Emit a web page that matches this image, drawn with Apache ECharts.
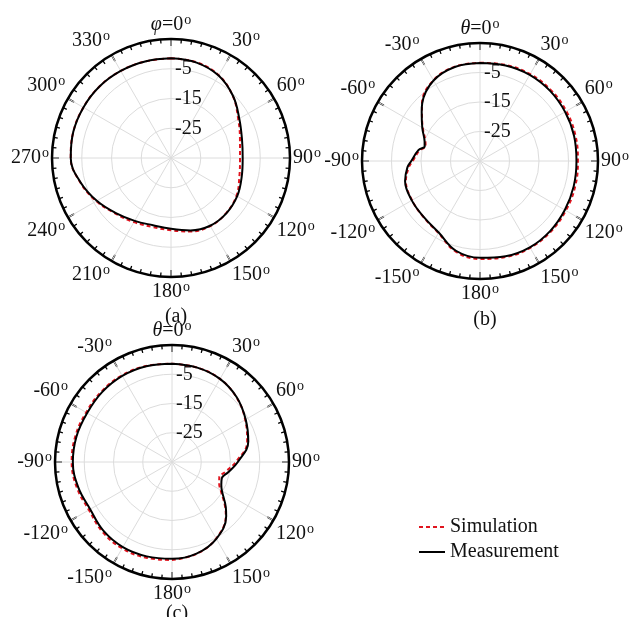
<!DOCTYPE html>
<html><head><meta charset="utf-8">
<script src="https://cdn.jsdelivr.net/npm/echarts@6/dist/echarts.min.js"></script>
<style>html,body{margin:0;padding:0;background:#fff}#c{width:634px;height:617px}</style>
</head><body><div id="c"></div>
<script>
// ---- data (angles in degrees, values in dB) ----
const angleA = [0,15,30,45,60,75,90,105,120,135,150,165,180,195,210,225,240,255,270,285,300,315,330,345,360];
const measA  = [-1.5,-1.8,-3.0,-5.5,-8.5,-10.3,-10.9,-10.4,-9.3,-8.7,-8.7,-9.8,-11.2,-11.6,-10.6,-8.8,-6.2,-3.5,-1.3,-1.0,-1.0,-1.0,-1.2,-1.4,-1.5];
const simA   = [-1.5,-1.7,-2.9,-5.6,-8.9,-11.0,-11.8,-11.2,-9.6,-8.8,-8.6,-9.4,-10.7,-11.0,-10.1,-8.6,-6.0,-3.4,-1.3,-1.0,-1.0,-1.0,-1.2,-1.4,-1.5];

const angleB = [-180,-165,-150,-135,-120,-105,-95,-90,-80,-75,-70,-60,-50,-45,-30,-15,0,15,30,45,60,75,90,105,120,135,150,165,180];
const measB  = [-2.2,-3.5,-7.0,-8.1,-8.3,-8.7,-10.3,-11.7,-13.8,-15.6,-15.0,-12.4,-9.2,-7.3,-3.5,-2.0,-1.8,-1.5,-1.3,-1.4,-1.7,-2.0,-2.3,-2.1,-1.8,-1.4,-1.2,-1.6,-2.2];
const simB   = [-1.8,-3.2,-6.8,-8.0,-8.4,-9.0,-10.8,-12.2,-14.2,-15.9,-15.3,-12.6,-9.3,-7.2,-3.4,-1.9,-1.7,-1.3,-1.0,-1.0,-1.2,-1.5,-1.8,-1.6,-1.4,-1.1,-1.0,-1.3,-1.8];

const angleC = [-180,-165,-150,-135,-120,-105,-90,-75,-60,-45,-30,-15,0,15,30,45,60,75,90,100,108,115,120,130,135,150,165,180];
const measC  = [-1.9,-1.6,-1.4,-1.8,-2.7,-1.8,-1.1,-1.2,-1.5,-1.2,-1.0,-1.1,-1.4,-1.6,-2.2,-3.7,-5.9,-8.0,-12.5,-15.4,-17.1,-16.4,-15.3,-11.0,-8.8,-4.7,-2.6,-1.9];
const simC   = [-1.5,-1.1,-0.9,-1.3,-2.2,-1.3,-0.7,-0.8,-1.1,-0.9,-0.8,-1.0,-1.4,-1.6,-2.2,-3.8,-6.1,-8.4,-13.2,-16.3,-18.0,-17.2,-15.8,-11.3,-9.0,-4.8,-2.5,-1.6];

const radiusTicks = [-35,-25,-15,-5,5];
const legendNames = ['Simulation','Measurement'];
const captions = ['(a)','(b)','(c)'];
const zeroLabels = ['φ','θ','θ'];

// ---- layout ----
const polars = [
  {center:[171,158], radius:119},
  {center:[480,161], radius:118},
  {center:[172,462], radius:117}
];
const captionPos = [[171,302],[480,305],[172,599]];
const serif = '"Liberation Serif","Times New Roman",serif';

function angleFormatter(idx){
  return function(v){
    if (v === 0) return '{i|' + zeroLabels[idx] + '}{n|=0}{s|o}';
    if (v === 360) return '';
    let d = v;
    if (idx > 0 && v > 180) d = v - 360;
    return '{n|' + d + '}{s|o}';
  };
}
const rich = {
  n:{fontFamily:serif,fontSize:20,color:'#111'},
  i:{fontFamily:serif,fontSize:20,fontStyle:'italic',color:'#111'},
  s:{fontFamily:serif,fontSize:14,color:'#111',verticalAlign:'top',padding:[0,0,9,1]}
};

const option = {
  animation:false,
  backgroundColor:'#fff',
  title: captions.map((t,i)=>({text:t,left:captionPos[i][0],top:captionPos[i][1],textAlign:'center',
    textStyle:{fontFamily:serif,fontSize:20,fontWeight:'normal',color:'#111'}})),
  legend:{data:legendNames,orient:'vertical',left:413,top:512,itemWidth:26,itemHeight:10,itemGap:5,
    itemStyle:{opacity:0},
    textStyle:{fontFamily:serif,fontSize:20,color:'#111'}},
  polar: polars.map(p=>({center:p.center,radius:p.radius})),
  angleAxis: polars.map((p,i)=>({
    polarIndex:i,type:'value',min:0,max:360,interval:30,startAngle:90,clockwise:true,
    axisLine:{lineStyle:{color:'#000',width:2.5}},
    axisTick:{inside:true,length:7,lineStyle:{color:'#000',width:1.6}},
    minorTick:{show:true,splitNumber:6,length:4,lineStyle:{color:'#000',width:1.3}},
    axisLabel:{margin:3,formatter:angleFormatter(i),rich:rich},
    splitLine:{show:true,lineStyle:{color:'#dcdcdc',width:1}}
  })),
  radiusAxis: polars.map((p,i)=>({
    polarIndex:i,type:'value',min:radiusTicks[0],max:radiusTicks[radiusTicks.length-1],interval:10,
    axisLine:{show:false},axisTick:{show:false},
    axisLabel:{show:true,margin:-4,align:'left',formatter:v=>(v===radiusTicks[0]||v===radiusTicks[radiusTicks.length-1])?'':String(v),
      fontFamily:serif,fontSize:20,color:'#111'},
    splitLine:{show:true,lineStyle:{color:'#dcdcdc',width:1}}
  })),
  series:[]
};
const sets = [[angleA,simA,measA],[angleB,simB,measB],[angleC,simC,measC]];
sets.forEach((s,i)=>{
  const conv = a => (a<0 ? a+360 : a);
  const simData = s[0].map((a,k)=>[s[1][k], conv(a)]);
  const measData = s[0].map((a,k)=>[s[2][k], conv(a)]);
  const sorter = (x,y)=>x[1]-y[1];
  if (i>0){ simData.sort(sorter); measData.sort(sorter); simData.push([simData[0][0],360]); measData.push([measData[0][0],360]); }
  option.series.push({name:'Simulation',type:'line',coordinateSystem:'polar',polarIndex:i,data:simData,
    smooth:0.4,symbol:'none',lineStyle:{color:'#e0141e',width:2,type:[4,3]},itemStyle:{color:'#e0141e'}});
  option.series.push({name:'Measurement',type:'line',coordinateSystem:'polar',polarIndex:i,data:measData,
    smooth:0.4,symbol:'none',lineStyle:{color:'#000',width:2},itemStyle:{color:'#000'}});
});
const chart = echarts.init(document.getElementById('c'),null,{renderer:'canvas'});
chart.setOption(option);
</script></body></html>
